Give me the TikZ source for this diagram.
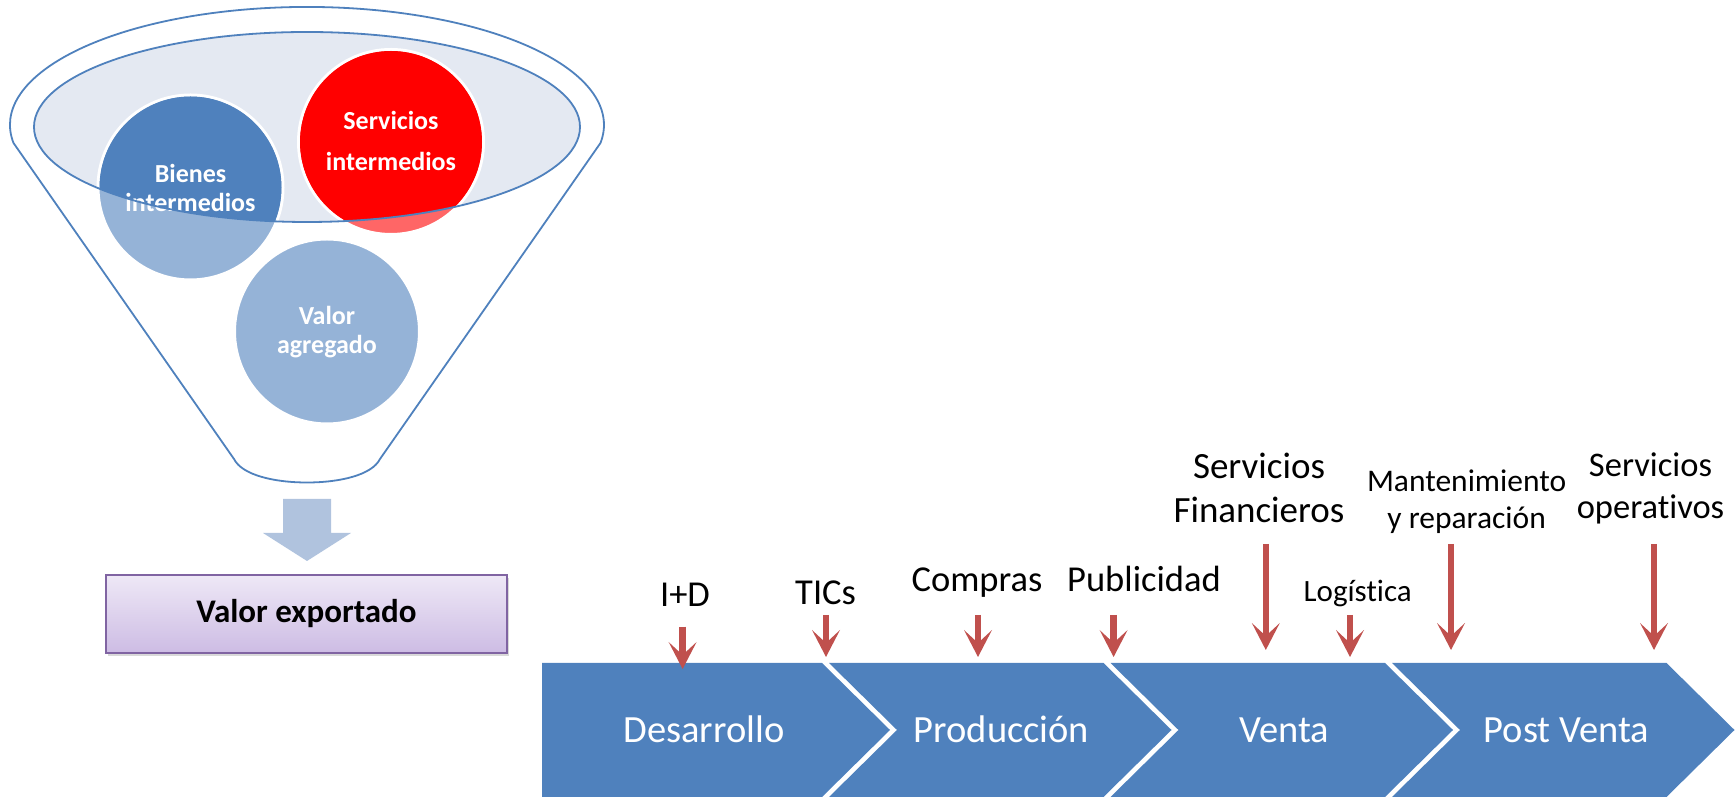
\documentclass[tikz,border=0pt]{standalone}
\usepackage{fontspec}
\setmainfont{Carlito}[Ligatures=NoCommon]
\usetikzlibrary{arrows.meta,shadows}
\definecolor{chevblue}{RGB}{79,129,189}
\definecolor{paleblue}{RGB}{149,179,215}
\definecolor{rimfill}{RGB}{228,233,242}
\definecolor{lightred}{RGB}{255,102,102}
\definecolor{arrred}{RGB}{192,80,77}
\definecolor{blockblue}{RGB}{176,195,222}
\definecolor{boxline}{RGB}{128,100,162}
\definecolor{boxtop}{RGB}{238,232,246}
\definecolor{boxbot}{RGB}{205,188,228}

\begin{document}
\begin{tikzpicture}[x=1pt,y=1pt,
    funnel/.style={draw=chevblue, line width=1.8pt},
    ballrim/.style={draw=white, line width=3pt},
    balltext/.style={text=white, align=center, font=\bfseries\fontsize{26}{29}\selectfont},
    stage/.style={fill=chevblue},
    stagetext/.style={text=white, anchor=base, font=\fontsize{38.5}{40}\selectfont},
    service/.style={anchor=base, font=\fontsize{36.5}{40}\selectfont},
    twoline/.style={anchor=center, align=center},
    inflow/.style={draw=arrred, line width=6.5pt, -{Stealth[length=27pt,width=28pt,inset=13pt,line width=0pt]}}]
    \useasboundingbox (0,0) rectangle (1735,797);

    % funnel
    \draw[funnel, fill=white] (13.5,654) arc[start angle=188.8, end angle=-8.8, x radius=297, y radius=118]
      -- (380,338) .. controls (372,322) and (340,314.5) .. (307,314.5)
      .. controls (274,314.5) and (242,322) .. (234,338) -- cycle;
    \fill[rimfill] (307,670) ellipse [x radius=273, y radius=95];
    \filldraw[paleblue, ballrim] (190.5,609.5) circle (92.5);
    \filldraw[lightred, ballrim] (391,655) circle (92.5);
    \filldraw[paleblue, ballrim] (327,465.5) circle (92.5);
    \begin{scope}
      \clip (307,670) ellipse [x radius=273, y radius=95];
      \fill[chevblue] (190.5,609.5) circle (91);
      \fill[red] (391,655) circle (91);
    \end{scope}
    \node[balltext] (bienes) at (190.5,609.5) {Bienes\\intermedios};
    \node[balltext, font=\bfseries\fontsize{26}{41}\selectfont] (servicios) at (391,656.5) {Servicios\\intermedios};
    \node[balltext] (agregado) at (327,465) {Valor\\agregado};
    \draw[funnel] (307,670) ellipse [x radius=273, y radius=95];

    \fill[blockblue] (283,298) -- (331,298) -- (331,264) -- (351,264) -- (307,236) -- (263,264) -- (283,264) -- cycle;
    \node[draw=boxline, line width=1.5pt, top color=boxtop, bottom color=boxbot,
      minimum width=401pt, minimum height=78pt,
      drop shadow={opacity=0.3, shadow xshift=1.5pt, shadow yshift=-3pt},
      font=\bfseries\fontsize{33}{36}\selectfont] (exportado) at (306.5,183) {Valor exportado};

    % value chain
    \fill[stage] (542,134) -- (822,134) -- (890,67) -- (822,0) -- (542,0) -- cycle;
    \fill[stage] (829,134) -- (1103.5,134) -- (1171.5,67) -- (1103.5,0) -- (829,0) -- (897,67) -- cycle;
    \fill[stage] (1110.5,134) -- (1385,134) -- (1453,67) -- (1385,0) -- (1110.5,0) -- (1178.5,67) -- cycle;
    \fill[stage] (1392,134) -- (1666.5,134) -- (1734.5,67) -- (1666.5,0) -- (1392,0) -- (1460,67) -- cycle;
    \node[stagetext] (desarrollo) at (704,54) {Desarrollo};
    \node[stagetext] (produccion) at (1001.5,54) {Producción};
    \node[stagetext] (venta) at (1284,54) {Venta};
    \node[stagetext] (postventa) at (1566.5,54) {Post Venta};

    \node[service] (imasd) at (685,190.3) {I+D};
    \node[service] (tics) at (825.6,192) {TICs};
    \node[service] (compras) at (977,205.3) {Compras};
    \node[service] (publicidad) at (1144,205.3) {Publicidad};
    \node[service, twoline, font=\fontsize{37}{44}\selectfont] (financieros) at (1259,309) {Servicios\\Financieros};
    \node[service, font=\fontsize{31}{34}\selectfont] (logistica) at (1357.7,195.3) {Logística};
    \node[service, twoline, font=\fontsize{31.5}{37.3}\selectfont] (mantenimiento) at (1466.6,295.4) {Mantenimiento\\y reparación};
    \node[service, twoline, font=\fontsize{34.5}{42.3}\selectfont] (operativos) at (1650.5,308.3) {Servicios\\operativos};

    \coordinate (imasd-top) at (682.6,170.3);        \coordinate (imasd-tip) at (682.6,128);
    \coordinate (tics-top) at (826,182);             \coordinate (tics-tip) at (826,140);
    \coordinate (compras-top) at (978,182);          \coordinate (compras-tip) at (978,140);
    \coordinate (publicidad-top) at (1113.6,182);    \coordinate (publicidad-tip) at (1113.6,140);
    \coordinate (financieros-top) at (1265.8,253);   \coordinate (financieros-tip) at (1265.8,147);
    \coordinate (logistica-top) at (1350,182);       \coordinate (logistica-tip) at (1350,140);
    \coordinate (mantenimiento-top) at (1451,253);   \coordinate (mantenimiento-tip) at (1451,147);
    \coordinate (operativos-top) at (1654,253);      \coordinate (operativos-tip) at (1654,147);
    \draw[inflow] (imasd-top) -- (imasd-tip);
    \draw[inflow] (tics-top) -- (tics-tip);
    \draw[inflow] (compras-top) -- (compras-tip);
    \draw[inflow] (publicidad-top) -- (publicidad-tip);
    \draw[inflow] (financieros-top) -- (financieros-tip);
    \draw[inflow] (logistica-top) -- (logistica-tip);
    \draw[inflow] (mantenimiento-top) -- (mantenimiento-tip);
    \draw[inflow] (operativos-top) -- (operativos-tip);
\end{tikzpicture}
\end{document}
